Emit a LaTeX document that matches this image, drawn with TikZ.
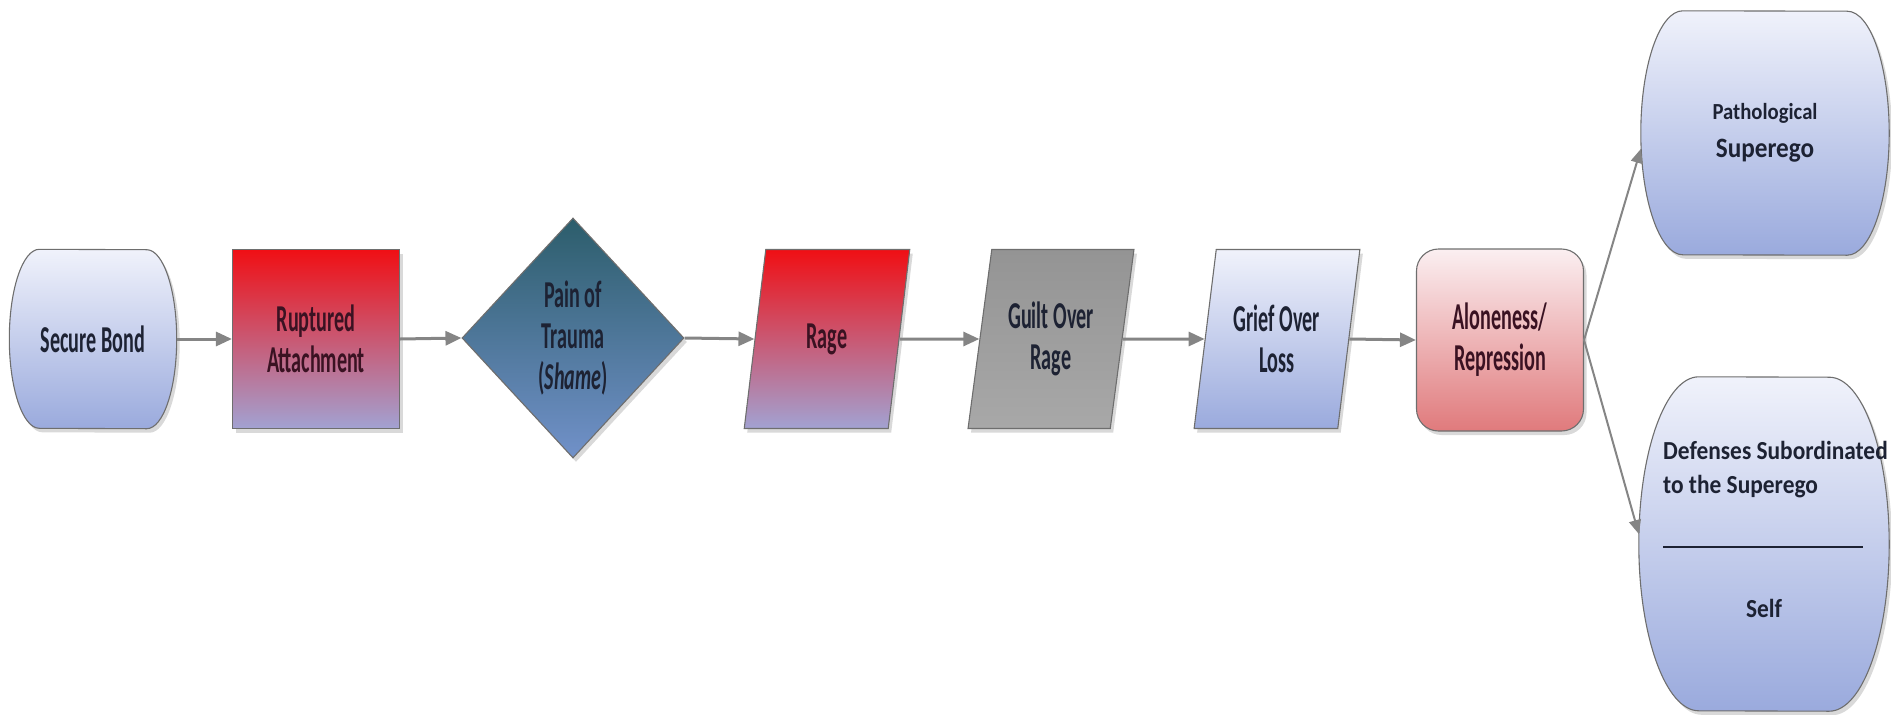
\documentclass[tikz,border=0pt]{standalone}
\usepackage{fontspec}
\setmainfont{Carlito}
\newfontfamily\narrowfont{Carlito}[FakeStretch=0.53]
\newfontfamily\outfont{Carlito}[FakeStretch=0.9]
\newfontfamily\deffont{Carlito}[FakeStretch=0.9]
\usetikzlibrary{shapes.geometric, arrows.meta, shadows, calc, backgrounds}

\definecolor{edge}{HTML}{6E6E6E}
\definecolor{ink}{HTML}{1D2233}
\definecolor{inkred}{HTML}{3A1222}
\definecolor{arrowgray}{HTML}{858585}
\definecolor{bluetop}{HTML}{F0F2FB}
\definecolor{bluebot}{HTML}{9AAADD}
\definecolor{redtop}{HTML}{F00F14}
\definecolor{redbot}{HTML}{A2A2D2}
\definecolor{tealtop}{HTML}{2C5D6B}
\definecolor{tealbot}{HTML}{7191C9}
\definecolor{graytop}{HTML}{949494}
\definecolor{graybot}{HTML}{A8A8A8}
\definecolor{pinktop}{HTML}{FBEFF1}
\definecolor{pinkbot}{HTML}{E07A7C}

% barrel outline behind a terminal node: #1 node, #2 bulge, #3 half height
\newcommand{\barrel}[3]{%
  \shade[top color=bluetop, bottom color=bluebot, draw=edge, line width=1.1pt,
         drop shadow={shadow xshift=3pt, shadow yshift=-4pt, opacity=.3}]
    ([xshift=#2]#1.north west)
      arc[start angle=90, end angle=270, x radius=#2, y radius=#3]
    -- ([xshift=-#2]#1.south east)
      arc[start angle=-90, end angle=90, x radius=#2, y radius=#3]
    -- cycle;}

\begin{document}
\begin{tikzpicture}[x=1pt, y=1pt,
  label text/.style={text=ink, align=center, inner sep=0pt,
               font=\narrowfont\bfseries\fontsize{38}{41}\selectfont},
  base/.style={label text, draw=edge, line width=1.1pt,
               drop shadow={shadow xshift=3pt, shadow yshift=-4pt,
                            opacity=.3}},
  terminal/.style={label text, rectangle},
  procbox/.style={base, rectangle, minimum width=167pt, minimum height=179pt},
  databox/.style={base, trapezium, trapezium left angle=77,
                  trapezium right angle=103, trapezium stretches=true,
                  minimum width=166pt, minimum height=179pt},
  decision/.style={base, diamond, minimum width=222pt, minimum height=240pt},
  flow/.style={draw=arrowgray, line width=3pt,
               -{Triangle[length=16pt, width=14pt]}},
  branch/.style={draw=arrowgray, line width=2pt,
                 -{Triangle[length=14pt, width=12pt]}}
]
  \useasboundingbox (0,-715) rectangle (1891,0);

  % main chain
  \node[terminal, minimum width=167pt, minimum height=179pt] (bond)
    at (93,-339) {Secure Bond};
  \node[procbox, top color=redtop, bottom color=redbot, text=inkred] (rupture)
    at (316,-339) {Ruptured\\Attachment};
  \node[decision, top color=tealtop, bottom color=tealbot] (pain)
    at (573,-338) {Pain of\\Trauma\\(\textit{Shame})};
  \node[databox, top color=redtop, bottom color=redbot, text=inkred] (rage)
    at (827,-339) {Rage};
  \node[databox, top color=graytop, bottom color=graybot] (guilt)
    at (1051,-339) {Guilt Over\\Rage};
  \node[databox, top color=bluetop, bottom color=bluebot] (grief)
    at (1277,-339) {Grief Over\\Loss};
  \node[procbox, rounded corners=22pt, minimum height=182pt,
        top color=pinktop, bottom color=pinkbot, text=inkred] (alone)
    at (1500,-340) {Aloneness/\\Repression};

  % two outcomes
  \node[terminal, minimum width=248pt, minimum height=244pt,
        font=\outfont\bfseries\fontsize{23}{38}\selectfont] (patho)
    at (1765,-133) {Pathological\\{\fontsize{28}{38}\selectfont Superego}};
  \node[terminal, minimum width=250pt, minimum height=334pt] (defenses)
    at (1764,-544) {};
  \node[anchor=west, align=left, inner sep=0pt, text=ink,
        font=\deffont\bfseries\fontsize{26}{34}\selectfont] (deftext)
    at ($(defenses.center)+(-101,74)$) {Defenses Subordinated\\to the Superego};
  \draw[ink, line width=1.2pt] ($(defenses.center)+(-101,-3)$)
    -- ($(defenses.center)+(99,-3)$);
  \node[inner sep=0pt, text=ink,
        font=\deffont\bfseries\fontsize{26}{34}\selectfont] (self)
    at ($(defenses.center)+(0,-64)$) {Self};

  \begin{scope}[on background layer]
    \barrel{bond}{30}{89.5}
    \barrel{patho}{42}{122}
    \barrel{defenses}{60}{167}
  \end{scope}

  % connectors
  \draw[flow] (bond.east) -- (rupture.west);
  \draw[flow] (rupture.east) -- (pain.west);
  \draw[flow] (pain.east) -- (rage.west);
  \draw[flow] (rage.east) -- (guilt.west);
  \draw[flow] (guilt.east) -- (grief.west);
  \draw[flow] (grief.east) -- (alone.west);
  \draw[branch] (alone.east) -- ([yshift=-16pt]patho.west);
  \draw[branch] (alone.east) -- ([yshift=10pt]defenses.west);
\end{tikzpicture}
\end{document}
